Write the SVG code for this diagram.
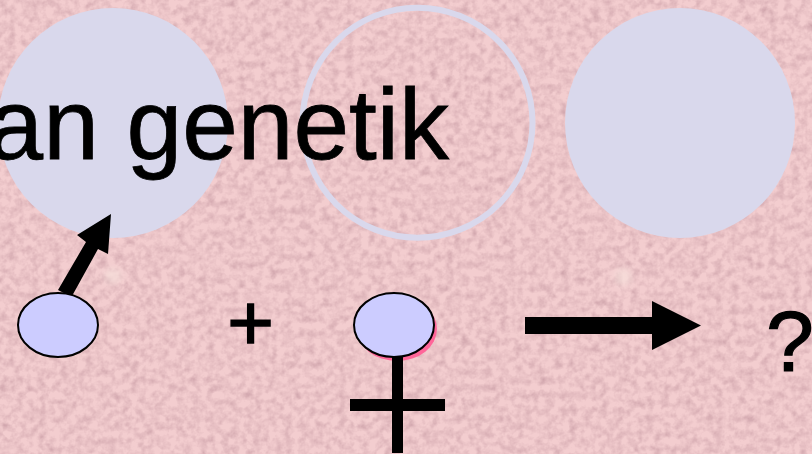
<svg xmlns="http://www.w3.org/2000/svg" width="812" height="454" viewBox="0 0 812 454">
<style>
.t{font-family:"Liberation Sans",Arial,sans-serif;fill:#000}
.c{fill:#D9D8EC}
.e{fill:#CCCCFF;stroke:#000;stroke-width:2}
.s{fill:#F6E0DC;opacity:.7}
</style>
<defs>
<filter id="tex" x="0" y="0" width="100%" height="100%" color-interpolation-filters="sRGB">
<feTurbulence type="fractalNoise" baseFrequency="0.13" numOctaves="3" seed="11"/>
<feColorMatrix type="matrix" values="0 0 0 0 0.74  0 0 0 0 0.56  0 0 0 0 0.60  0.7 0.7 0 0 -0.56"/>
</filter>
<filter id="soft" x="-50%" y="-50%" width="200%" height="200%"><feGaussianBlur stdDeviation="3"/></filter>
</defs>
<g id="background">
<rect width="812" height="454" fill="#F3CDCF"/>
<rect width="812" height="454" filter="url(#tex)"/>
<g filter="url(#soft)">
<ellipse class="s" cx="113" cy="276" rx="9" ry="8"/>
<ellipse class="s" cx="623" cy="277" rx="9" ry="9"/>
</g>
</g>
<g id="circle-1"><circle class="c" cx="113" cy="123" r="115"/></g>
<g id="circle-2"><circle cx="417.500" cy="122.700" r="115" fill="none" stroke="#D9D8EC" stroke-width="6"/></g>
<g id="circle-3"><circle class="c" cx="680" cy="123" r="115"/></g>
<g id="label"><text class="t" x="449" y="159" font-size="100" text-anchor="end" stroke="#000" stroke-width="0.800">an genetik</text></g>
<g id="connectors">
<polygon points="58,290 71.500,297 98,249 108,254 111,214 77,235 86,242"/>
<polygon points="525,317 652,317 652,301 701,325.500 652,350 652,334 525,334"/>
</g>
<g id="ovum-1"><ellipse class="e" cx="58" cy="325" rx="40" ry="32"/></g>
<g id="plus"><text class="t" x="250.500" y="350" font-size="80" text-anchor="middle" stroke="#000" stroke-width="1.500">+</text></g>
<g id="female">
<ellipse cx="397" cy="329" rx="40" ry="32" fill="#FF6699"/>
<ellipse class="e" cx="394" cy="325" rx="40" ry="32"/>
<rect x="392" y="357" width="11" height="96"/>
<rect x="350" y="399" width="95" height="12"/>
</g>
<g id="question"><text class="t" x="790" y="371" font-size="86" text-anchor="middle" stroke="#000" stroke-width="1.200">?</text></g>
</svg>
